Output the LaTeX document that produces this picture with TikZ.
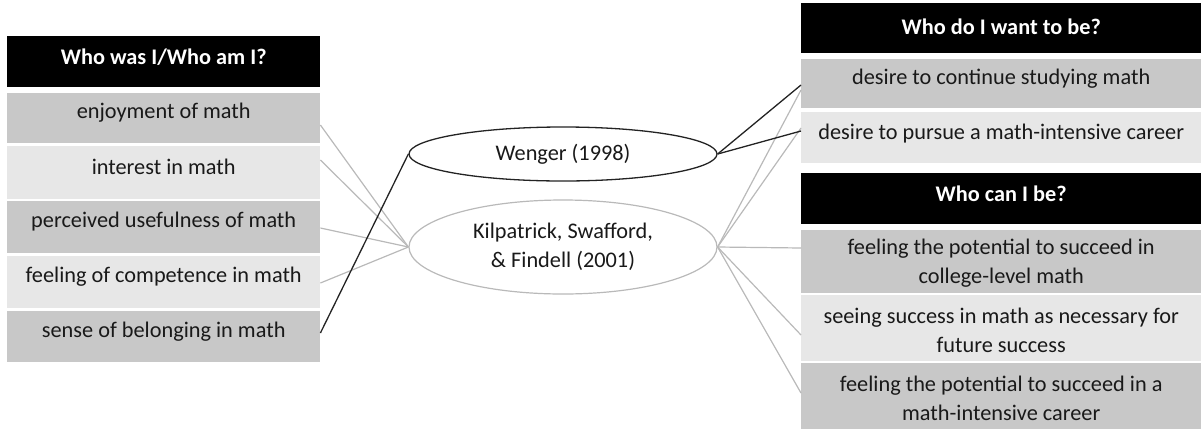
\documentclass[tikz,border=0pt]{standalone}
\usepackage{fontspec}
\setmainfont{Carlito}
\usetikzlibrary{calc,shapes.geometric}
\definecolor{darkrow}{RGB}{200,200,200}
\definecolor{lightrow}{RGB}{231,231,231}
\definecolor{connG}{RGB}{185,185,185}
\definecolor{connK}{RGB}{35,35,35}
\definecolor{txtc}{RGB}{25,25,25}
\begin{document}
\begin{tikzpicture}[x=1pt,y=-1pt,
  rowbox/.style={rectangle, anchor=north west, inner sep=0pt, draw=none},
  headbox/.style={rowbox, fill=black},
  rowtext/.style={inner sep=0pt, text=txtc, align=center, font=\fontsize{22.3}{29}\selectfont},
  headtext/.style={inner sep=0pt, text=white, align=center, font=\fontsize{22.3}{29}\selectfont\bfseries},
  gline/.style={draw=connG, line width=1.2pt},
  kline/.style={draw=connK, line width=1.3pt},
  ell/.style={ellipse, inner sep=0pt, minimum width=308pt, text=txtc, align=center, font=\fontsize{22.3}{29}\selectfont}
]
\useasboundingbox (0,0) rectangle (1201,429);

% Left column
\node[headbox, minimum width=313pt, minimum height=51pt] (LH) at (7,36) {};
\node[headtext] (LHt) at ($(LH.north)+(0,21)$) {Who was I/Who am I?};
\node[rowbox, fill=darkrow, minimum width=313pt, minimum height=50pt] (L1) at (7,93) {};
\node[rowtext] (L1t) at ($(L1.north)+(0,20)$) {enjoyment of math};
\node[rowbox, fill=lightrow, minimum width=313pt, minimum height=53pt] (L2) at (7,146) {};
\node[rowtext] (L2t) at ($(L2.north)+(0,21)$) {interest in math};
\node[rowbox, fill=darkrow, minimum width=313pt, minimum height=52pt] (L3) at (7,201) {};
\node[rowtext] (L3t) at ($(L3.north)+(0,21)$) {perceived usefulness of math};
\node[rowbox, fill=lightrow, minimum width=313pt, minimum height=52pt] (L4) at (7,256) {};
\node[rowtext] (L4t) at ($(L4.north)+(0,21)$) {feeling of competence in math};
\node[rowbox, fill=darkrow, minimum width=313pt, minimum height=51pt] (L5) at (7,311) {};
\node[rowtext] (L5t) at ($(L5.north)+(0,21)$) {sense of belonging in math};

% Right column
\node[headbox, minimum width=400pt, minimum height=50pt] (RH1) at (801,3) {};
\node[headtext] (RH1t) at ($(RH1.north)+(0,24)$) {Who do I want to be?};
\node[rowbox, fill=darkrow, minimum width=400pt, minimum height=49pt] (D1) at (801,59) {};
\node[rowtext] (D1t) at ($(D1.north)+(0,20)$) {desire to continue studying math};
\node[rowbox, fill=lightrow, minimum width=400pt, minimum height=51pt] (D2) at (801,112) {};
\node[rowtext] (D2t) at ($(D2.north)+(0,22)$) {desire to pursue a math-intensive career};
\node[headbox, minimum width=400pt, minimum height=51pt] (RH2) at (801,173) {};
\node[headtext] (RH2t) at ($(RH2.north)+(0,21)$) {Who can I be?};
\node[rowbox, fill=darkrow, minimum width=400pt, minimum height=63pt] (C1) at (801,230) {};
\node[rowtext] (C1t) at ($(C1.north)+(0,33)$) {feeling the potential to succeed in\\college-level math};
\node[rowbox, fill=lightrow, minimum width=400pt, minimum height=66pt] (C2) at (801,295) {};
\node[rowtext] (C2t) at ($(C2.north)+(0,35)$) {seeing success in math as necessary for\\future success};
\node[rowbox, fill=darkrow, minimum width=400pt, minimum height=66pt] (C3) at (801,363) {};
\node[rowtext] (C3t) at ($(C3.north)+(0,35)$) {feeling the potential to succeed in a\\math-intensive career};

% Ellipses
\node[ell, draw=connK, line width=1.3pt, minimum height=54pt] (W) at (563,154) {Wenger (1998)};
\node[ell, draw=connG, line width=1.2pt, minimum height=94pt] (K) at (563,247) {Kilpatrick, Swafford,\\\& Findell (2001)};

% Connectors left
\draw[gline] ($(L1.north east)+(0,32)$) -- (K.west);
\draw[gline] ($(L2.north east)+(0,14)$) -- (K.west);
\draw[gline] ($(L3.north east)+(0,27)$) -- (K.west);
\draw[gline] ($(L4.north east)+(0,27)$) -- (K.west);
\draw[kline] ($(L5.north east)+(0,22)$) -- (W.west);

% Connectors right
\draw[gline] (K.east) -- ($(D1.north west)+(0,31)$);
\draw[gline] (K.east) -- ($(D2.north west)+(0,16)$);
\draw[gline] (K.east) -- ($(C1.north west)+(0,18)$);
\draw[gline] (K.east) -- ($(C2.north west)+(0,40)$);
\draw[gline] (K.east) -- ($(C3.north west)+(0,30)$);
\draw[kline] (W.east) -- ($(D1.north west)+(0,26)$);
\draw[kline] (W.east) -- ($(D2.north west)+(0,19)$);
\end{tikzpicture}
\end{document}
